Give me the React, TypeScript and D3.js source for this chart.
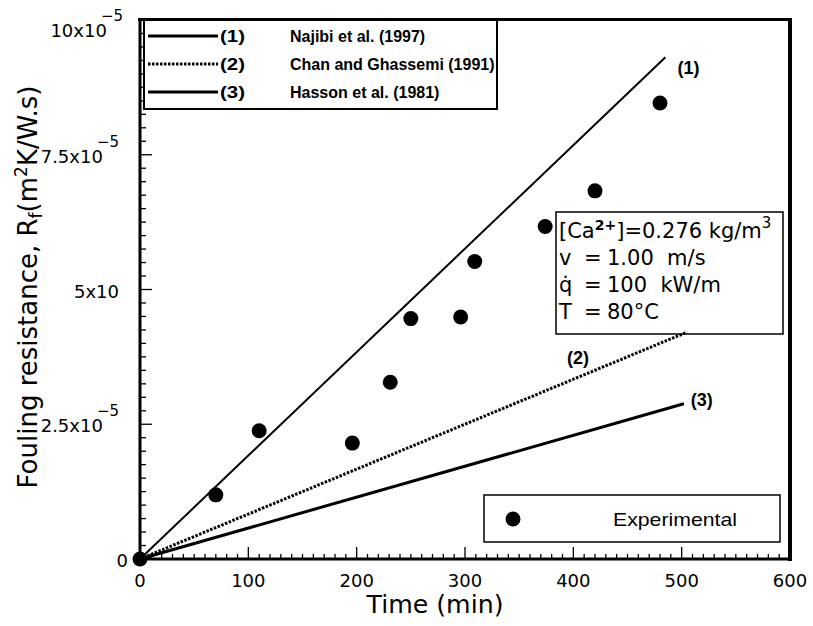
import React from "react";
import * as d3 from "d3";

// ---- data ----
const expTime = [0, 70, 110, 196, 231, 250, 296, 309, 374, 420, 480];
const expRf = [0, 1.19, 2.38, 2.15, 3.28, 4.46, 4.49, 5.52, 6.17, 6.83, 8.46]; // x 1e-5

const modelNames = ["Najibi et al. (1997)", "Chan and Ghassemi (1991)", "Hasson et al. (1981)"];
const modelTags = ["(1)", "(2)", "(3)"];
const modelEndTime = [485, 505, 502];
const modelEndRf = [9.31, 4.21, 2.88];

const xTicks = [0, 100, 200, 300, 400, 500, 600];
const yTicks = [0, 2.5, 5, 7.5, 10];
const yTickMain = ["0", "2.5x10", "5x10", "7.5x10", "10x10"];
const yTickSup = ["", "\u22125", "", "\u22125", "\u22125"];

const boxSymbols = ["v", "q\u0307", "T"];
const boxValues = ["1.00  m/s", "100  kW/m", "80\u00B0C"];

export default function App() {
  const x = d3.scaleLinear().domain([0, 600]).range([140, 790]);
  const y = d3.scaleLinear().domain([0, 10]).range([559, 20]);

  const xMinor = d3.range(0, 601, 10);
  const yMinor = d3.range(0, 10.001, 0.25);

  const line = d3
    .line<[number, number]>()
    .x((d) => x(d[0]))
    .y((d) => y(d[1]));

  const modelStyles = [
    { w: 2, dash: "none" },
    { w: 3, dash: "2.5,1.5" },
    { w: 3, dash: "none" },
  ];
  const tagOffsets = [
    [12, 17],
    [-120, 32],
    [7, 2],
  ];

  const sans = "'DejaVu Sans', sans-serif";
  const arial = "'Liberation Sans', Arial, sans-serif";

  return (
    <div style={{ position: "fixed", left: 0, top: 0 }}>
      <svg width={813} height={626} style={{ display: "block", background: "#fff" }}>
        {/* minor & major ticks */}
        {xMinor.map((v) => {
          const major = v % 100 === 0;
          return (
            <line key={"xm" + v} x1={x(v)} x2={x(v)} y1={559} y2={559 - (major ? 12 : 5)} stroke="#000" strokeWidth={1.3} />
          );
        })}
        {yMinor.map((v, i) => {
          const major = i % 10 === 0;
          return (
            <line key={"ym" + i} x1={140} x2={140 + (major ? 12 : 6)} y1={y(v)} y2={y(v)} stroke="#000" strokeWidth={1.3} />
          );
        })}

        {/* frame */}
        <line x1={140} x2={140} y1={18} y2={561} stroke="#000" strokeWidth={3} />
        <line x1={138} x2={792} y1={559} y2={559} stroke="#000" strokeWidth={3} />
        <line x1={138} x2={792} y1={19.5} y2={19.5} stroke="#000" strokeWidth={3} />
        <line x1={790} x2={790} y1={18} y2={561} stroke="#000" strokeWidth={4} />

        {/* x tick labels */}
        {xTicks.map((v) => (
          <text key={"xt" + v} x={x(v)} y={587} textAnchor="middle" fontFamily={sans} fontSize={18}>
            {v}
          </text>
        ))}
        <text x={435} y={613} textAnchor="middle" fontFamily={sans} fontSize={25} textLength={137} lengthAdjust="spacingAndGlyphs">
          Time (min)
        </text>

        {/* y tick labels */}
        {yTicks.map((v, i) => {
          const top = i === yTicks.length - 1;
          const dy = top ? 9 : 0;
          const dx = top ? 4 : 0;
          const yy = y(v);
          const isZero = yTickMain[i] === "0";
          return (
            <text
              key={"yt" + i}
              x={(isZero ? 128 : 119) + dx}
              y={yy + 8 + dy}
              textAnchor="end"
              fontFamily={sans}
              fontSize={18}
            >
              {yTickMain[i]}
              {yTickSup[i] ? (
                <tspan dx={-6} dy={-16} fontSize={15}>
                  {yTickSup[i]}
                </tspan>
              ) : null}
            </text>
          );
        })}
        <text transform="translate(37,287) rotate(-90)" textAnchor="middle" fontFamily={sans} fontSize={26}>
          Fouling resistance, R
          <tspan fontSize={17} dy={5}>f</tspan>
          <tspan dy={-5}>(m</tspan>
          <tspan fontSize={17} dy={-10}>2</tspan>
          <tspan dy={10}>K/W.s)</tspan>
        </text>

        {/* condition box */}
        <rect x={556} y={212} width={227} height={122} fill="#fff" stroke="#000" strokeWidth={1.5} />
        <text x={559} y={238} fontFamily={sans} fontSize={21}>
          [Ca
          <tspan fontSize={14} dy={-8} fontWeight="bold">2+</tspan>
          <tspan dy={8}>]=0.276 kg/m</tspan>
          <tspan fontSize={15} dy={-10}>3</tspan>
        </text>
        {boxSymbols.map((s, i) => {
          const by = 265 + i * 27;
          return (
            <g key={"bx" + i}>
              <text x={559} y={by} fontFamily={sans} fontSize={21}>{s}</text>
              <text x={584} y={by} fontFamily={sans} fontSize={21}>=</text>
              <text x={607} y={by} fontFamily={sans} fontSize={21} style={{ whiteSpace: "pre" }}>
                {boxValues[i]}
              </text>
            </g>
          );
        })}

        {/* model lines */}
        {modelNames.map((n, i) => {
          const pts: [number, number][] = [
            [0, 0],
            [modelEndTime[i], modelEndRf[i]],
          ];
          return (
            <g key={"m" + i}>
              <path
                d={line(pts) || ""}
                fill="none"
                stroke="#000"
                strokeWidth={modelStyles[i].w}
                strokeDasharray={modelStyles[i].dash}
              />
              <text
                x={x(modelEndTime[i]) + tagOffsets[i][0]}
                y={y(modelEndRf[i]) + tagOffsets[i][1]}
                fontFamily={arial}
                fontWeight="bold"
                fontSize={18}
              >
                {modelTags[i]}
              </text>
            </g>
          );
        })}

        {/* experimental points */}
        {expTime.map((t, i) => (
          <circle key={"p" + i} cx={x(t)} cy={y(expRf[i])} r={7.5} fill="#000" />
        ))}

        {/* top-left legend */}
        <rect x={144} y={20} width={353} height={89} fill="#fff" stroke="#000" strokeWidth={2} />
        {modelNames.map((n, i) => {
          const cy = 36 + i * 28;
          return (
            <g key={"lg" + i}>
              <line x1={148} x2={218} y1={cy} y2={cy} stroke="#000" strokeWidth={3} strokeDasharray={modelStyles[i].dash} />
              <text x={220} y={cy + 6} fontFamily={arial} fontWeight="bold" fontSize={17} textLength={25} lengthAdjust="spacingAndGlyphs">
                {modelTags[i]}
              </text>
              <text x={290} y={cy + 6} fontFamily={arial} fontWeight="bold" fontSize={16}>
                {n}
              </text>
            </g>
          );
        })}

        {/* experimental legend */}
        <rect x={484} y={495} width={296} height={47} fill="#fff" stroke="#000" strokeWidth={1.5} />
        <circle cx={513} cy={519} r={7.5} fill="#000" />
        <text x={613} y={526} fontFamily={arial} fontSize={19} textLength={124} lengthAdjust="spacingAndGlyphs">
          Experimental
        </text>
      </svg>
    </div>
  );
}
